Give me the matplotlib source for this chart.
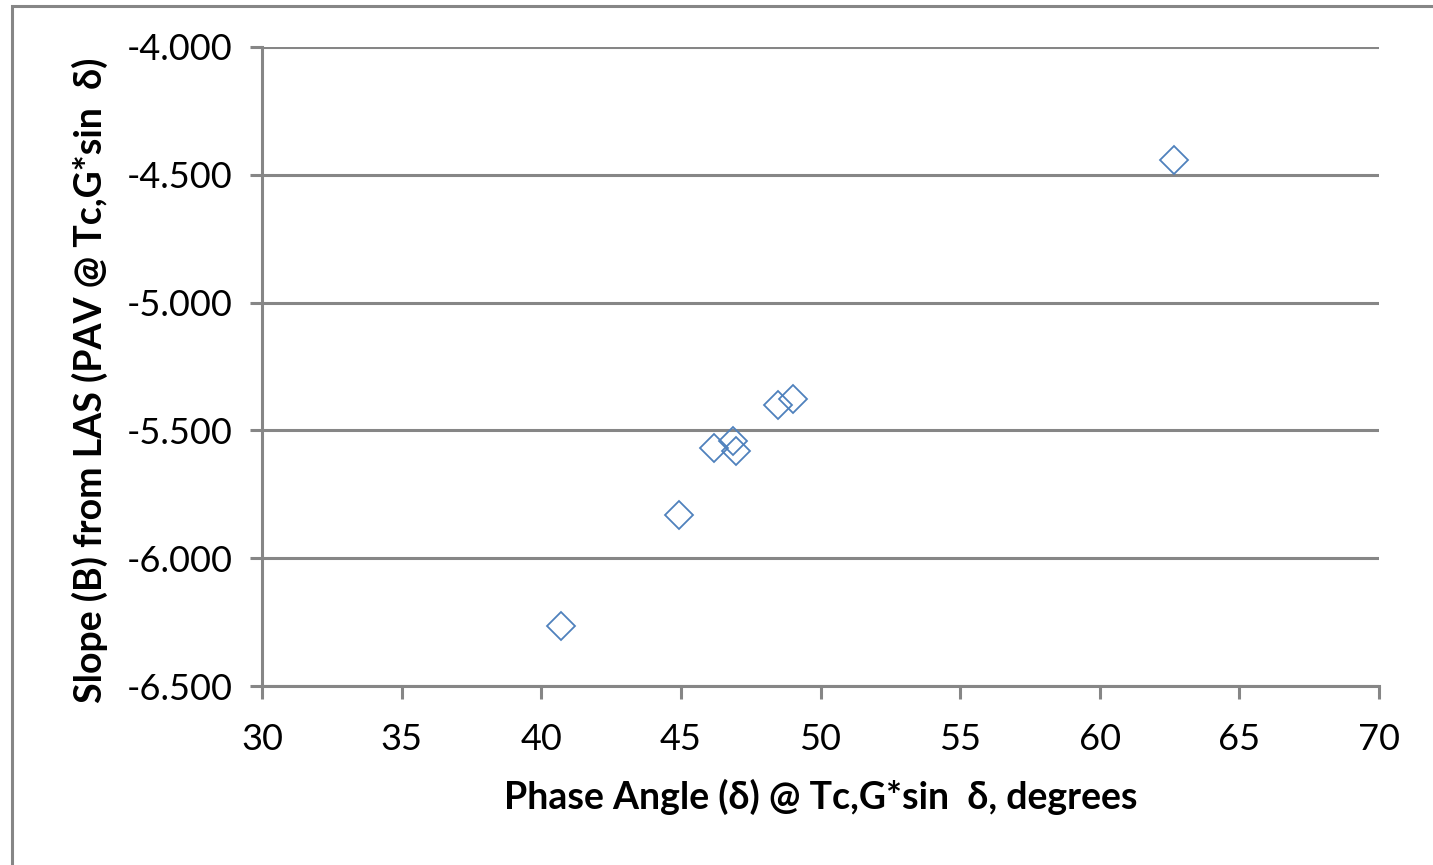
import matplotlib
matplotlib.use("Agg")
import matplotlib.pyplot as plt
from matplotlib.patches import Rectangle
from matplotlib.ticker import FormatStrFormatter

plt.rcParams['font.family'] = ['Lato', 'DejaVu Sans']

# phase angle (deg) vs LAS slope B
phase_angle = [62.66, 40.71, 44.93, 46.19, 46.87, 46.97, 48.48, 49.02]
slope_b = [-4.442, -6.265, -5.831, -5.567, -5.541, -5.579, -5.399, -5.377]

x_ticks = [30, 35, 40, 45, 50, 55, 60, 65, 70]
y_ticks = [-6.5, -6.0, -5.5, -5.0, -4.5, -4.0]

x_title = "Phase Angle (δ) @ Tc,G*sin  δ, degrees"
y_title = "Slope (B) from LAS (PAV @ Tc,G*sin  δ)"

GRAY = "#868686"
BLUE = "#4F81BD"

fig = plt.figure(figsize=(14.33, 8.65), dpi=100)
fig.patch.set_facecolor("white")

# outer chart border
fig.patches.append(Rectangle((12 / 1433, -0.1), 1.2, 1.1 - 6 / 865,
                             transform=fig.transFigure, fill=False,
                             edgecolor=GRAY, linewidth=2.2))

ax = fig.add_axes([262 / 1433, 1 - 686 / 865, (1379 - 262) / 1433, (686 - 47) / 865])

ax.plot(phase_angle, slope_b, linestyle="none", marker="D", markersize=14.5,
        markerfacecolor="none", markeredgecolor=BLUE, markeredgewidth=1.3,
        zorder=3, clip_on=False)

ax.set_xlim(30, 70)
ax.set_ylim(-6.5, -4.0)
ax.set_xticks(x_ticks)
ax.set_yticks(y_ticks)
ax.yaxis.set_major_formatter(FormatStrFormatter("%.3f"))

ax.yaxis.grid(True, color=GRAY, linewidth=2.2)
ax.set_axisbelow(True)

for side in ("top", "right"):
    ax.spines[side].set_visible(False)
for side in ("left", "bottom"):
    ax.spines[side].set_color(GRAY)
    ax.spines[side].set_linewidth(2.2)

ax.tick_params(axis="both", direction="out", length=9, width=2.2, color=GRAY,
               labelsize=26, labelcolor="black")
ax.tick_params(axis="y", pad=12)
ax.tick_params(axis="x", pad=18)

ax.set_xlabel(x_title, fontsize=27, fontweight="bold", va="center")
ax.set_ylabel(y_title, fontsize=27, fontweight="bold", va="center")
ax.xaxis.set_label_coords(0.5, -0.1737)
ax.yaxis.set_label_coords(-0.154, 0.479)

fig.savefig("out.png", dpi=100, facecolor="white")
